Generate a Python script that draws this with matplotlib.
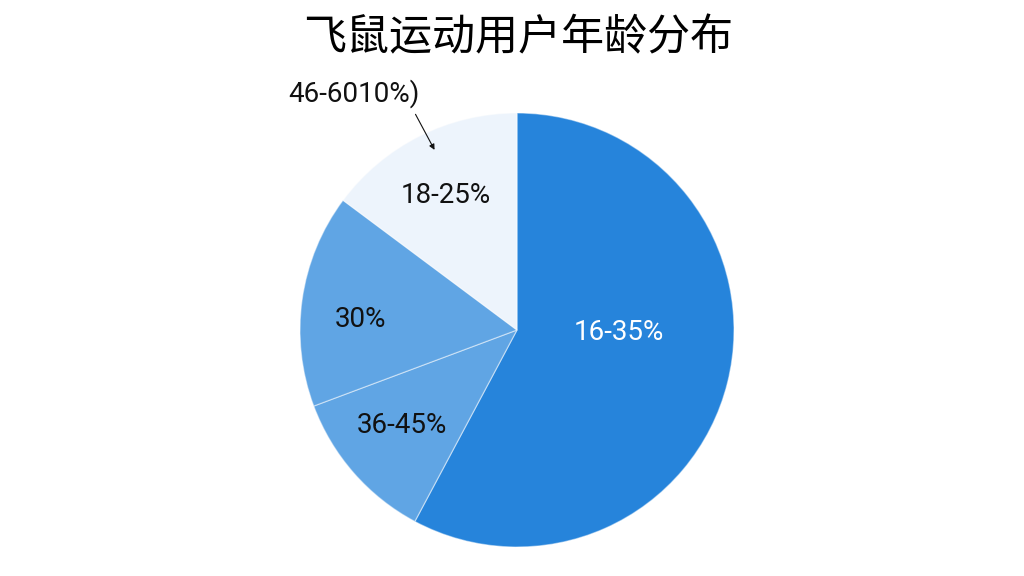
import matplotlib.pyplot as plt

# age groups, read clockwise from 12 o'clock
labels = ['16-35%', '36-45%', '30%', '18-25%']
shares = [57.8, 11.5, 15.9, 14.8]
colors = ['#2684DB', '#60A5E4', '#60A5E4', '#EDF4FC']
text_colors = ['white', 'black', 'black', 'black']

# label anchors in axes-data units (pie radius = 1)
label_pos = [(0.47, -0.01), (-0.53, -0.44), (-0.72, 0.05), (-0.33, 0.62)]

title = '飞鼠运动用户年龄分布'
callout = '46-6010%)'

plt.rcParams['font.family'] = ['Roboto', 'Noto Sans CJK SC', 'DejaVu Sans']

fig = plt.figure(figsize=(10.24, 5.76), dpi=100)
fig.patch.set_facecolor('white')

cx, cy, r = 517, 330, 217
ax = fig.add_axes([(cx - r) / 1024, (576 - cy - r) / 576, 2 * r / 1024, 2 * r / 576])

wedges, _ = ax.pie(shares, colors=colors, startangle=90, counterclock=False,
                   radius=1, wedgeprops=dict(edgecolor=(1, 1, 1, 0.45), linewidth=0.9))
ax.set_xlim(-1, 1)
ax.set_ylim(-1, 1)
ax.set_aspect('equal')
ax.axis('off')

for lab, (x, y), c in zip(labels, label_pos, text_colors):
    ax.text(x, y, lab, ha='center', va='center', fontsize=20, color='#111111' if c == 'black' else c)

ax.annotate(callout, xy=(-0.38, 0.83), xytext=(-0.75, 1.09),
            ha='center', va='center', fontsize=20, color='#111111',
            arrowprops=dict(arrowstyle='-|>', color='#111111', lw=0.8,
                            shrinkA=3, shrinkB=0, mutation_scale=8,
                            relpos=(0.94, 0.0)),
            annotation_clip=False)

fig.text(518 / 1024, 1 - 38 / 576, title, ha='center', va='center',
         fontsize=31, family=['Noto Sans CJK SC', 'DejaVu Sans'])

fig.savefig('out.png', dpi=100, facecolor='white')
